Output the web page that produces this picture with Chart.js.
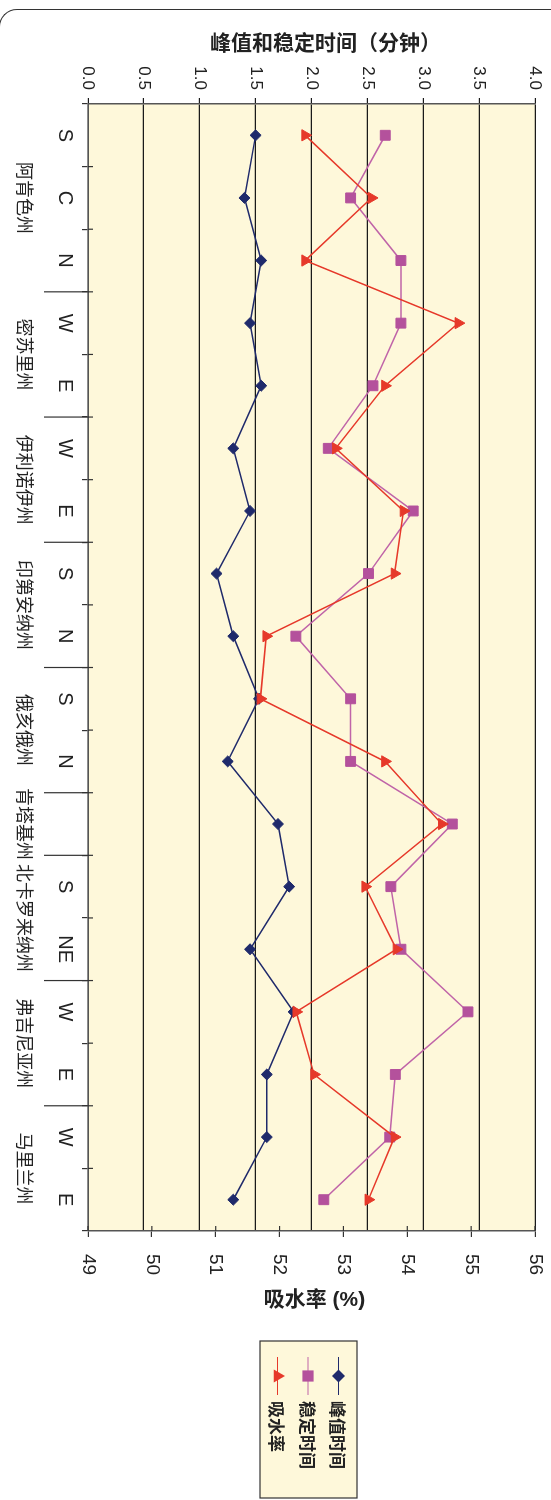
<!DOCTYPE html>
<html>
<head>
<meta charset="utf-8">
<title>峰值和稳定时间与吸水率</title>
<script src="https://cdn.jsdelivr.net/npm/chart.js@4.4.0/dist/chart.umd.min.js"></script>
<style>
  html, body { margin: 0; padding: 0; background: #fff; }
  body { width: 551px; height: 1500px; position: relative; overflow: hidden; }
  /* rounded frame, only the top-left corner shows */
  #frame { position: absolute; left: -1px; top: 9px; width: 700px; height: 1700px;
           border-top: 1.5px solid #333; border-left: 1.5px solid #333; border-top-left-radius: 18px; }
  /* chart is drawn landscape and turned 90deg clockwise */
  #rot { position: absolute; left: 0; top: 0; width: 1500px; height: 551px;
         transform-origin: 0 0; transform: translate(551px, 0) rotate(90deg); }
</style>
</head>
<body>
<div id="frame"></div>
<div id="rot"><canvas id="chart" width="1500" height="551"></canvas></div>
<script>
const categories = ['S', 'C', 'N', 'W', 'E', 'W', 'E', 'S', 'N', 'S', 'N', '', 'S', 'NE', 'W', 'E', 'W', 'E'];
const states = ['阿肯色州', '密苏里州', '伊利诺伊州', '印第安纳州', '俄亥俄州', '肯塔基州', '北卡罗来纳州', '弗吉尼亚州', '马里兰州'];
const stateSpans = [3, 2, 2, 2, 2, 1, 2, 2, 2];

const peakTime   = [1.50, 1.40, 1.55, 1.45, 1.55, 1.30, 1.45, 1.15, 1.30, 1.53, 1.25, 1.70, 1.80, 1.45, 1.84, 1.60, 1.60, 1.30];
const stableTime = [2.66, 2.35, 2.80, 2.80, 2.55, 2.15, 2.91, 2.51, 1.86, 2.35, 2.35, 3.26, 2.71, 2.80, 3.40, 2.75, 2.70, 2.11];
const absorption = [52.40, 53.44, 52.40, 54.80, 53.65, 52.88, 53.94, 53.80, 51.79, 51.70, 53.65, 54.54, 53.34, 53.83, 52.26, 52.54, 53.80, 53.39];

const timeTitle = '峰值和稳定时间（分钟）';
const absorbTitle = '吸水率 (%)';

const FONT = "'Liberation Sans', 'Noto Sans CJK SC', sans-serif";
const CJK = "'Noto Sans CJK SC', sans-serif";
const BG = '#fef8da';
const NAVY = '#1f2a6b';
const MAGENTA = '#b4519c';
const RED = '#e6392a';

// legend marker shapes
function marker(g, style, x, y, r, color) {
  g.fillStyle = color;
  g.beginPath();
  if (style === 'rectRot') {
    g.moveTo(x, y - r); g.lineTo(x + r, y); g.lineTo(x, y + r); g.lineTo(x - r, y);
  } else if (style === 'rect') {
    g.rect(x - r * 0.7, y - r * 0.7, r * 1.4, r * 1.4);
  } else {
    g.moveTo(x, y - r); g.lineTo(x + r * 0.87, y + r * 0.5); g.lineTo(x - r * 0.87, y + r * 0.5);
  }
  g.closePath();
  g.fill();
}

// keep the plot box fixed: no extra room for overhanging tick labels
function noPad(s) {
  s.paddingTop = 0; s.paddingBottom = 0; s.paddingLeft = 0; s.paddingRight = 0;
}

const extras = {
  id: 'extras',
  beforeDraw(c) {
    const a = c.chartArea, g = c.ctx;
    g.save();
    g.fillStyle = BG;
    g.fillRect(a.left, a.top, a.right - a.left, a.bottom - a.top);
    g.restore();
  },
  afterDraw(c) {
    const g = c.ctx, a = c.chartArea;
    const band = (a.right - a.left) / categories.length;
    g.save();
    g.strokeStyle = '#333';
    g.lineWidth = 1.2;

    // small inner halves of the category ticks
    for (let i = 1; i < categories.length; i++) {
      const px = c.scales.x.getPixelForValue(i) - band / 2;
      g.beginPath(); g.moveTo(px, a.bottom - 5); g.lineTo(px, a.bottom); g.stroke();
    }
    // inner halves of the right axis ticks
    c.scales.y2.ticks.forEach(t => {
      const py = c.scales.y2.getPixelForValue(t.value);
      g.beginPath(); g.moveTo(a.right - 5, py); g.lineTo(a.right, py); g.stroke();
    });

    // state groups: separators and names
    g.fillStyle = '#222';
    g.font = '18px ' + CJK;
    g.textAlign = 'center';
    g.textBaseline = 'middle';
    let start = 0;
    stateSpans.forEach((n, i) => {
      const x0 = c.scales.x.getPixelForValue(start) - band / 2;
      const x1 = c.scales.x.getPixelForValue(start + n - 1) + band / 2;
      g.fillText(states[i], (x0 + x1) / 2, a.bottom + 63);
      if (i < stateSpans.length - 1) {
        g.beginPath(); g.moveTo(x1, a.bottom); g.lineTo(x1, a.bottom + 44); g.stroke();
      }
      start += n;
    });

    // axis titles (turned so they read level on the page)
    const mid = (a.top + a.bottom) / 2;
    g.font = 'bold 21px ' + FONT;
    g.save();
    g.translate(44, mid - 14);
    g.rotate(-Math.PI / 2);
    g.fillText(timeTitle, 0, 0);
    g.restore();
    g.font = '600 21px ' + FONT;
    g.save();
    g.translate(1300, mid - 3);
    g.rotate(-Math.PI / 2);
    g.fillText(absorbTitle, 0, 0);
    g.restore();

    // legend box
    const lx = 1341, ly = 194, lw = 157, lh = 97;
    g.fillStyle = BG;
    g.fillRect(lx, ly, lw, lh);
    g.strokeStyle = '#333';
    g.lineWidth = 1.2;
    g.strokeRect(lx, ly, lw, lh);
    g.textAlign = 'left';
    g.font = '600 17px ' + CJK;
    c.data.datasets.forEach((ds, i) => {
      const yy = ly + 18.5 + i * 30.5;
      g.strokeStyle = ds.borderColor;
      g.lineWidth = 1;
      g.beginPath(); g.moveTo(lx + 16, yy); g.lineTo(lx + 54, yy); g.stroke();
      marker(g, ds.pointStyle, lx + 35, yy, ds.pointRadius + 1, ds.backgroundColor);
      g.fillStyle = '#222';
      g.fillText(ds.label, lx + 60, yy + 1);
    });
    g.restore();
  }
};

const ctx = document.getElementById('chart').getContext('2d');
new Chart(ctx, {
  type: 'line',
  data: {
    labels: categories,
    datasets: [
      {
        label: '峰值时间',
        data: peakTime,
        yAxisID: 'y',
        borderColor: NAVY,
        backgroundColor: NAVY,
        borderWidth: 1.5,
        pointStyle: 'rectRot',
        pointRadius: 5.5,
        pointBorderWidth: 1,
        order: 2
      },
      {
        label: '稳定时间',
        data: stableTime,
        yAxisID: 'y',
        borderColor: '#c064a8',
        backgroundColor: MAGENTA,
        pointBorderColor: MAGENTA,
        borderWidth: 1.5,
        pointStyle: 'rect',
        pointRadius: 7,
        pointBorderWidth: 1,
        order: 1
      },
      {
        label: '吸水率',
        data: absorption,
        yAxisID: 'y2',
        borderColor: RED,
        backgroundColor: RED,
        borderWidth: 1.5,
        pointStyle: 'triangle',
        pointRadius: 6.5,
        pointBorderWidth: 1,
        order: 0
      }
    ]
  },
  options: {
    responsive: false,
    animation: false,
    layout: { padding: { top: 16, left: 0, right: 0, bottom: 0 } },
    plugins: {
      legend: { display: false },
      tooltip: { enabled: false }
    },
    scales: {
      x: {
        offset: true,
        grid: { offset: true, drawOnChartArea: false, tickLength: 6, color: '#333', lineWidth: 1.2 },
        border: { color: '#555', width: 1.5 },
        ticks: { autoSkip: false, maxRotation: 0, minRotation: 0, padding: 5, color: '#222', font: { family: FONT, size: 20 } },
        afterFit: s => { s.height = 88; noPad(s); }
      },
      y: {
        position: 'left',
        min: 0,
        max: 4,
        ticks: { stepSize: 0.5, padding: 8, color: '#222', font: { family: FONT, size: 17 }, callback: v => v.toFixed(1) },
        grid: { color: '#1a1a1a', lineWidth: 1.2, tickLength: 6 },
        border: { color: '#555', width: 1.5 },
        afterFit: s => { s.width = 104; noPad(s); }
      },
      y2: {
        position: 'right',
        min: 49,
        max: 56,
        ticks: { stepSize: 1, padding: 17, color: '#222', font: { family: FONT, size: 19 } },
        grid: { drawOnChartArea: false, tickLength: 6, color: '#333', lineWidth: 1.2 },
        border: { color: '#555', width: 1.5 },
        afterFit: s => { s.width = 269; noPad(s); }
      }
    }
  },
  plugins: [extras]
});
</script>
</body>
</html>
